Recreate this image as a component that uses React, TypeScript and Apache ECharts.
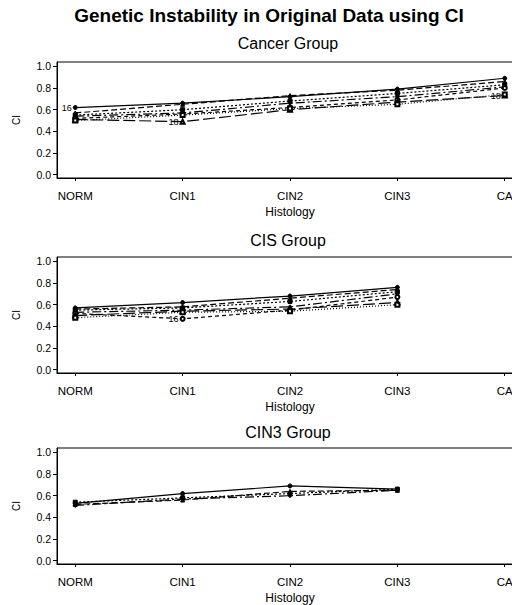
import React, { useEffect, useRef } from "react";
import * as echarts from "echarts";

const categories = ["NORM", "CIN1", "CIN2", "CIN3", "CA"];
const yTicks = [0, 0.2, 0.4, 0.6, 0.8, 1.0];
const mainTitle = "Genetic Instability in Original Data using CI";
const panelTitles = ["Cancer Group", "CIS Group", "CIN3 Group"];

// Cancer group: values at NORM, CIN1, CIN2, CIN3, CA
const cancerA = [0.62, 0.66, 0.72, 0.79, 0.89];
const cancerB = [0.57, 0.65, 0.73, 0.78, 0.86];
const cancerC = [0.55, 0.6, 0.68, 0.75, 0.83];
const cancerD = [0.54, 0.57, 0.66, 0.72, 0.81];
const cancerE = [0.52, 0.56, 0.62, 0.69, 0.8];
const cancerF = [0.51, 0.49, 0.6, 0.67, 0.73];
const cancerG = [0.5, 0.55, 0.61, 0.65, 0.74];
const cancerLabels = [
  ["16", "", "", "", ""],
  [], [], [], [],
  ["", "18", "", "", "18"],
  [],
];

// CIS group: values at NORM, CIN1, CIN2, CIN3
const cis1 = [0.57, 0.62, 0.68, 0.76];
const cis2 = [0.56, 0.58, 0.66, 0.74];
const cis3 = [0.55, 0.57, 0.63, 0.72];
const cis4 = [0.53, 0.55, 0.58, 0.7];
const cis5 = [0.52, 0.47, 0.55, 0.67];
const cis6 = [0.5, 0.54, 0.56, 0.62];
const cis7 = [0.48, 0.53, 0.54, 0.6];
const cisLabels = [[], [], [], [], ["", "16", "", ""], [], []];

// CIN3 group: values at NORM, CIN1, CIN2, CIN3
const cin3a = [0.53, 0.62, 0.69, 0.66];
const cin3b = [0.52, 0.56, 0.64, 0.65];
const cin3c = [0.54, 0.58, 0.62, 0.66];
const cin3d = [0.51, 0.57, 0.6, 0.65];
const cin3Labels = [[], [], [], []];

const groups = [
  { series: [cancerA, cancerB, cancerC, cancerD, cancerE, cancerF, cancerG], labels: cancerLabels },
  { series: [cis1, cis2, cis3, cis4, cis5, cis6, cis7], labels: cisLabels },
  { series: [cin3a, cin3b, cin3c, cin3d], labels: cin3Labels },
];

const lineTypes: any[] = ["solid", [6, 3], [2, 2], [9, 3, 2, 3], [4, 3], [12, 4], [1, 2]];
const symbols = ["circle", "triangle", "rect", "diamond", "emptyCircle", "emptyTriangle", "emptyRect"];

const CHART_W = 530;
const gridTops = [62, 257, 448];
const gridHeight = 116;
const panelTitleY = [43, 240, 432];
const FONT = "Liberation Sans, Arial, sans-serif";

export default function App() {
  const ref = useRef<HTMLDivElement>(null);
  useEffect(() => {
    if (!ref.current) return;
    const chart = echarts.init(ref.current, undefined, { renderer: "svg" });
    const grids: any[] = [];
    const xAxes: any[] = [];
    const yAxes: any[] = [];
    const series: any[] = [];
    groups.forEach((g, gi) => {
      grids.push({
        left: 57,
        right: CHART_W - 523,
        top: gridTops[gi],
        height: gridHeight,
        show: true,
        borderColor: "#000",
        borderWidth: 1,
        backgroundColor: "transparent",
      });
      xAxes.push({
        gridIndex: gi,
        type: "value",
        min: -0.17,
        max: 4.17,
        axisLine: { show: true, onZero: false, lineStyle: { color: "#000", width: 1 } },
        axisTick: { show: true, customValues: [0, 1, 2, 3, 4], length: 3, lineStyle: { color: "#000" } },
        axisLabel: {
          customValues: [0, 1, 2, 3, 4],
          formatter: (v: number) => categories[Math.round(v)] ?? "",
          color: "#000",
          fontSize: 11.5,
          fontFamily: FONT,
          margin: 12,
        },
        splitLine: { show: false },
        name: "Histology",
        nameLocation: "middle",
        nameGap: 28,
        nameTextStyle: { color: "#000", fontSize: 12, fontFamily: FONT },
      });
      yAxes.push({
        gridIndex: gi,
        type: "value",
        min: -0.03,
        max: 1.04,
        axisLine: { show: true, onZero: false, lineStyle: { color: "#000", width: 1 } },
        axisTick: { show: true, customValues: yTicks, length: 4, lineStyle: { color: "#000" } },
        axisLabel: {
          customValues: yTicks,
          formatter: (v: number) => v.toFixed(1),
          color: "#000",
          fontSize: 10.5,
          fontFamily: FONT,
          margin: 6,
        },
        splitLine: { show: false },
        name: "CI",
        nameLocation: "middle",
        nameGap: 36,
        nameTextStyle: { color: "#000", fontSize: 10, fontFamily: FONT },
      });
      g.series.forEach((vals, si) => {
        const labs = g.labels[si] || [];
        series.push({
          type: "line",
          xAxisIndex: gi,
          yAxisIndex: gi,
          data: vals.map((v, i) => ({
            value: [i, v],
            label: labs[i]
              ? { show: true, formatter: labs[i], position: "left", fontSize: 9, color: "#000", fontFamily: FONT, distance: 1 }
              : { show: false },
          })),
          symbol: symbols[si % symbols.length],
          symbolSize: 4,
          itemStyle: { color: "#000", borderColor: "#000" },
          lineStyle: { color: "#000", width: 1.2, type: lineTypes[si % lineTypes.length] },
          silent: true,
        });
      });
    });
    const graphics: any[] = [
      {
        type: "text",
        x: 269,
        y: 15,
        style: { text: mainTitle, fontSize: 19, fontWeight: "bold", fontFamily: FONT, fill: "#000", textAlign: "center", textVerticalAlign: "middle" },
      },
      ...panelTitles.map((t, i) => ({
        type: "text",
        x: 288,
        y: panelTitleY[i],
        style: { text: t, fontSize: 16, fontFamily: FONT, fill: "#000", textAlign: "center", textVerticalAlign: "middle" },
      })),
    ];
    chart.setOption({
      animation: false,
      backgroundColor: "#fff",
      grid: grids,
      xAxis: xAxes,
      yAxis: yAxes,
      series,
      graphic: graphics,
    });
    return () => chart.dispose();
  }, []);
  return (
    <div style={{ position: "fixed", left: 0, top: 0, width: 512, height: 605, overflow: "hidden" }}>
      <div ref={ref} style={{ width: CHART_W, height: 605 }} />
    </div>
  );
}
